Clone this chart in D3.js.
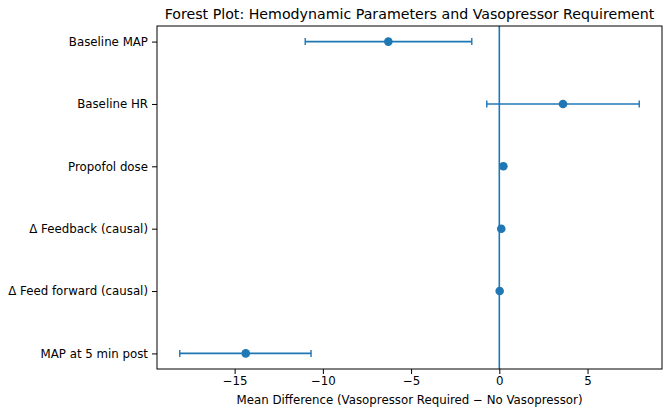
<!DOCTYPE html>
<html>
<head>
<meta charset="utf-8">
<script src="https://cdn.jsdelivr.net/npm/d3@7"></script>
<style>
  body { margin: 0; background: #fff; }
  text { font-family: "DejaVu Sans", sans-serif; fill: #000; }
</style>
</head>
<body>
<div id="chart"></div>
<script>
// forest plot data, listed bottom to top as in the picture
var labels = ["MAP at 5 min post", "\u0394 Feed forward (causal)", "\u0394 Feedback (causal)",
              "Propofol dose", "Baseline HR", "Baseline MAP"];
var meanDiff = [-14.37, 0.02, 0.11, 0.23, 3.61, -6.29];
var ciLow    = [-18.11, -0.05, 0.03, 0.12, -0.71, -11.0];
var ciHigh   = [-10.67, 0.09, 0.19, 0.34, 7.93, -1.56];
var xTicks = [-15, -10, -5, 0, 5];

var W = 671, H = 415;
var margin = {top: 26, right: 9, bottom: 46, left: 157},
    width = W - margin.left - margin.right,
    height = H - margin.top - margin.bottom;
var blue = "#1f77b4";

var svg = d3.select("#chart")
    .append("svg")
    .attr("width", W)
    .attr("height", H)
    .append("g")
    .attr("transform", "translate(" + margin.left + "," + margin.top + ")");

var x = d3.scaleLinear()
    .domain([-19.4, 9.22])
    .range([0, width]);

var y = d3.scaleLinear()
    .domain([-0.25, labels.length - 0.75])
    .range([height, 0]);

var rows = labels.map(function(d, i) {
    return {label: d, mean: meanDiff[i], lo: ciLow[i], hi: ciHigh[i], idx: i};
});

// X axis
var xAxis = svg.append("g")
    .attr("transform", "translate(0," + height + ")")
    .call(d3.axisBottom(x).tickValues(xTicks).tickSize(5).tickPadding(3)
        .tickFormat(function(d) { return d < 0 ? "\u2212" + Math.abs(d) : d; }));
xAxis.select(".domain").remove();
xAxis.selectAll("text").style("font-size", "11.8px");

// Y axis
var yAxis = svg.append("g")
    .call(d3.axisLeft(y).tickValues(d3.range(labels.length)).tickSize(5).tickPadding(4)
        .tickFormat(function(d) { return labels[d]; }));
yAxis.select(".domain").remove();
yAxis.selectAll("text").style("font-size", "11.8px");

// zero line
svg.append("line")
    .attr("x1", x(0)).attr("x2", x(0))
    .attr("y1", 0).attr("y2", height)
    .attr("stroke", blue)
    .attr("stroke-width", 1.6);

// error bars
var bars = svg.selectAll(".err")
    .data(rows)
    .enter()
    .append("g")
    .attr("class", "err");

bars.append("line")
    .attr("x1", function(d) { return x(d.lo); })
    .attr("x2", function(d) { return x(d.hi); })
    .attr("y1", function(d) { return y(d.idx); })
    .attr("y2", function(d) { return y(d.idx); })
    .attr("stroke", blue)
    .attr("stroke-width", 1.6);

["lo", "hi"].forEach(function(k) {
    bars.append("line")
        .attr("x1", function(d) { return x(d[k]); })
        .attr("x2", function(d) { return x(d[k]); })
        .attr("y1", function(d) { return y(d.idx) - 3.5; })
        .attr("y2", function(d) { return y(d.idx) + 3.5; })
        .attr("stroke", blue)
        .attr("stroke-width", 1.4);
});

bars.append("circle")
    .attr("cx", function(d) { return x(d.mean); })
    .attr("cy", function(d) { return y(d.idx); })
    .attr("r", 4.3)
    .attr("fill", blue);

// frame
svg.append("rect")
    .attr("width", width)
    .attr("height", height)
    .attr("fill", "none")
    .attr("stroke", "#000")
    .attr("stroke-width", 1);

// title and x label
svg.append("text")
    .attr("x", width / 2)
    .attr("y", -7)
    .attr("text-anchor", "middle")
    .style("font-size", "14.2px")
    .text("Forest Plot: Hemodynamic Parameters and Vasopressor Requirement");

svg.append("text")
    .attr("x", width / 2)
    .attr("y", height + 35)
    .attr("text-anchor", "middle")
    .style("font-size", "11.8px")
    .text("Mean Difference (Vasopressor Required \u2212 No Vasopressor)");
</script>
</body>
</html>
